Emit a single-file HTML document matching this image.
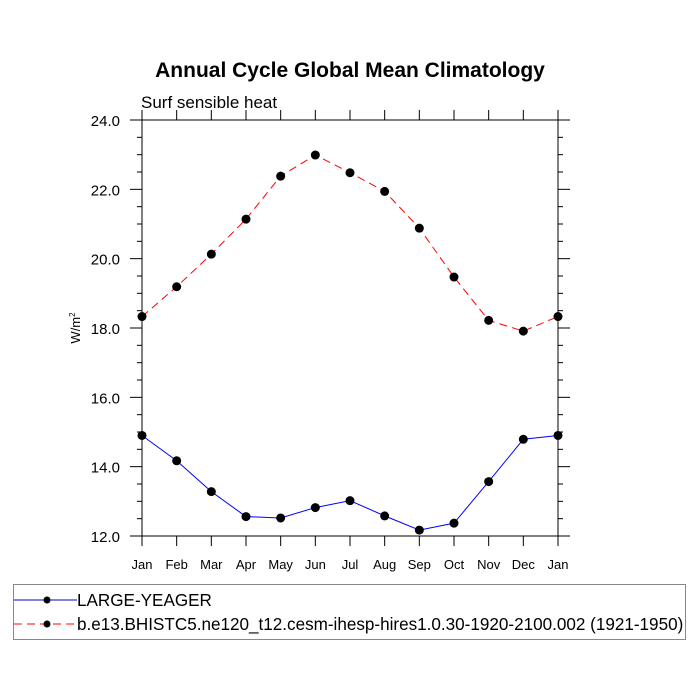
<!DOCTYPE html>
<html><head><meta charset="utf-8"><style>body{margin:0;background:#fff}svg{display:block;font-family:"Liberation Sans",sans-serif}</style></head>
<body>
<svg id="c" width="700" height="700">
<text x="350" y="77" text-anchor="middle" font-size="21" font-weight="bold">Annual Cycle Global Mean Climatology</text>
<text x="141" y="108" font-size="17">Surf sensible heat</text>
<text transform="translate(80,328) rotate(-90)" text-anchor="middle" font-size="13">W/m<tspan font-size="8" dy="-5">2</tspan></text>
<g id="axes"></g><g id="series"></g>
<rect x="13.5" y="584.5" width="672" height="55" fill="none" stroke="#888"/>
<g><line x1="14" y1="600" x2="77" y2="600" stroke="#00c" stroke-width="1"/><circle cx="47" cy="600" r="3.5"/><text x="77" y="606" font-size="17.1">LARGE-YEAGER</text></g>
<g><line x1="14" y1="624" x2="77" y2="624" stroke="red" stroke-dasharray="8,5"/><circle cx="47" cy="624" r="3.5"/><text x="77" y="630" font-size="17.1">b.e13.BHISTC5.ne120_t12.cesm-ihesp-hires1.0.30-1920-2100.002 (1921-1950)</text></g>
</svg>
<script>
const months=["Jan","Feb","Mar","Apr","May","Jun","Jul","Aug","Sep","Oct","Nov","Dec","Jan"];
const yTicks=[12,14,16,18,20,22,24];
const largeYeager=[14.90,14.17,13.28,12.56,12.52,12.82,13.02,12.58,12.17,12.37,13.57,14.79,14.90];
const bhist=[18.33,19.19,20.13,21.14,22.38,22.99,22.48,21.94,20.88,19.47,18.22,17.91,18.33];
const L=142,R=558,T=120,B=536,ymin=12,ymax=24;
const xs=i=>L+(R-L)*i/(months.length-1);
const ys=v=>B-(v-ymin)/(ymax-ymin)*(B-T);
const NS="http://www.w3.org/2000/svg";
function mk(t,a,p){const e=document.createElementNS(NS,t);for(const k in a)e.setAttribute(k,a[k]);p.appendChild(e);return e;}
const ax=document.getElementById('axes'),sr=document.getElementById('series');
const fr=mk('rect',{x:L,y:T,width:R-L,height:B-T,fill:'none',stroke:'#000','stroke-width':1},ax);


months.forEach((m,i)=>{const x=xs(i);
mk('line',{x1:x,y1:B,x2:x,y2:B+10,stroke:'#000'},ax);
mk('line',{x1:x,y1:T,x2:x,y2:T-10,stroke:'#000'},ax);
const t=mk('text',{x:x,y:B+33,'text-anchor':'middle','font-size':13},ax);t.textContent=m;

});
for(let v=ymin;v<=ymax+1e-9;v+=0.5){const y=ys(v);const maj=Math.abs(v%2)<1e-9;const len=maj?12:5;
mk('line',{x1:L,y1:y,x2:L-len,y2:y,stroke:'#000'},ax);
mk('line',{x1:R,y1:y,x2:R+len,y2:y,stroke:'#000'},ax);}
yTicks.forEach(v=>{const t=mk('text',{x:L-22,y:ys(v)+6,'text-anchor':'end','font-size':15},ax);t.textContent=v.toFixed(1);

});
function series(d,col,dash,name){const p=mk('polyline',{points:d.map((v,i)=>xs(i)+','+ys(v)).join(' '),fill:'none',stroke:col,'stroke-width':1,'stroke-dasharray':dash},sr);


d.forEach((v,i)=>{const c=mk('circle',{cx:xs(i),cy:ys(v),r:4.5,fill:'#000'},sr);

});}
series(largeYeager,'#00f','none','large-yeager');
series(bhist,'red','8,5','bhistc5');
</script>
</body></html>
